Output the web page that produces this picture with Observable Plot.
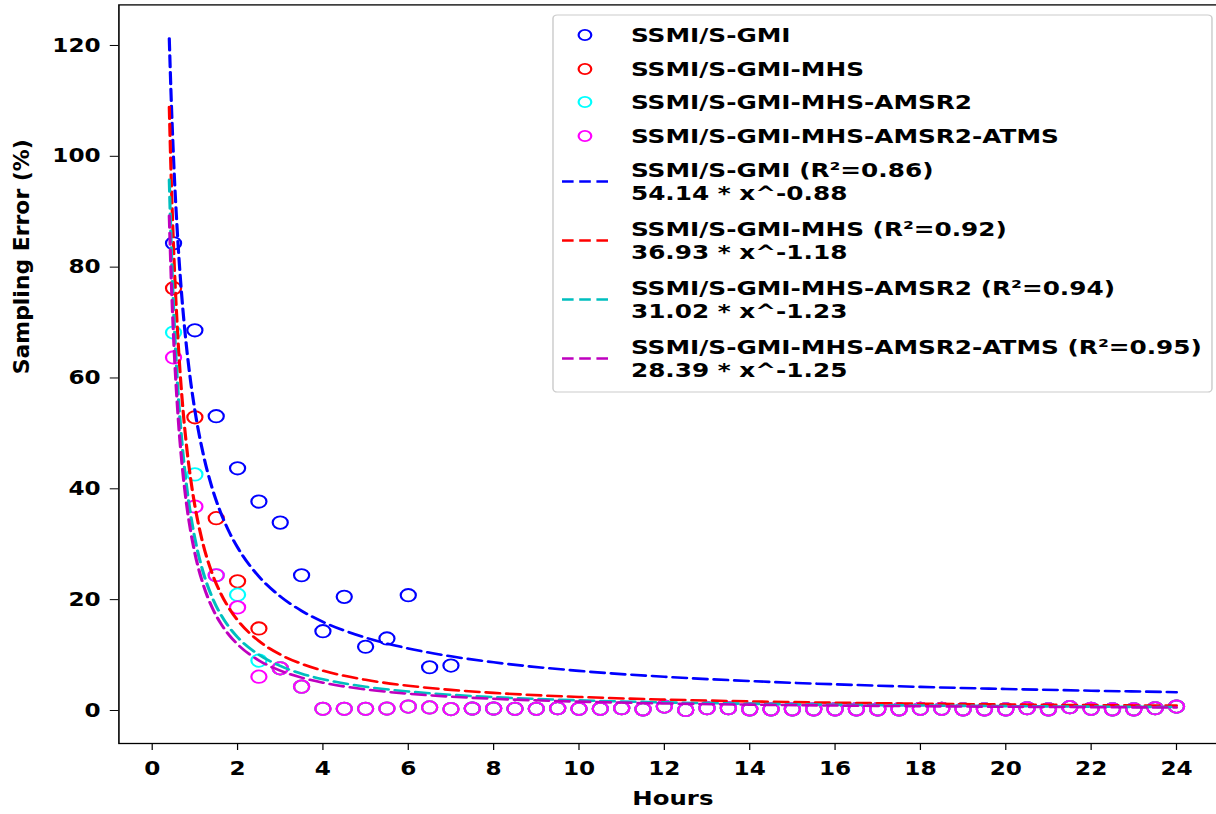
<!DOCTYPE html>
<html>
<head>
<meta charset="utf-8">
<script src="https://cdn.jsdelivr.net/npm/d3@7"></script>
<script src="https://cdn.jsdelivr.net/npm/@observablehq/plot@0.6"></script>
<style>
  html, body { margin: 0; padding: 0; background: white; overflow: hidden; }
  #chart { width: 1216px; height: 814px; }
</style>
</head>
<body>
<div id="chart"></div>
<script>
// ---------- data ----------
const seriesNames = ["SSMI/S-GMI", "SSMI/S-GMI-MHS", "SSMI/S-GMI-MHS-AMSR2", "SSMI/S-GMI-MHS-AMSR2-ATMS"];
const pointColors = ["#0000ff", "#ff0000", "#00ffff", "#ff00ff"];
const lineColors = ["#0000ff", "#ff0000", "#00bfbf", "#bf00bf"];
const r2Values = ["0.86", "0.92", "0.94", "0.95"];
const fitEquations = ["54.14 * x^-0.88", "36.93 * x^-1.18", "31.02 * x^-1.23", "28.39 * x^-1.25"];

const hours = [0.5, 1, 1.5, 2, 2.5, 3, 3.5, 4, 4.5, 5, 5.5, 6, 6.5, 7, 7.5, 8, 8.5, 9, 9.5, 10,
  10.5, 11, 11.5, 12, 12.5, 13, 13.5, 14, 14.5, 15, 15.5, 16, 16.5, 17, 17.5, 18, 18.5, 19, 19.5, 20,
  20.5, 21, 21.5, 22, 22.5, 23, 23.5, 24];

const errGmi = [84.3, 68.6, 53.1, 43.7, 37.7, 33.9, 24.4, 14.3, 20.5, 11.5, 13.0, 20.8, 7.8, 8.1,
  0.35, 0.35, 0.3, 0.3, 0.4, 0.3, 0.3, 0.4, 0.2, 0.7, 0.1, 0.4, 0.4, 0.2, 0.2, 0.2, 0.2, 0.2, 0.2, 0.2,
  0.2, 0.3, 0.3, 0.2, 0.2, 0.2, 0.4, 0.2, 0.6, 0.3, 0.2, 0.2, 0.4, 0.7];
const errMhs = [76.2, 52.9, 34.7, 23.3, 14.8, 7.6, 4.3,
  0.3, 0.3, 0.3, 0.35, 0.7, 0.55, 0.25, 0.35, 0.35, 0.3, 0.3, 0.4, 0.3, 0.3, 0.4, 0.2, 0.7, 0.1, 0.4,
  0.4, 0.2, 0.2, 0.2, 0.2, 0.2, 0.2, 0.2, 0.2, 0.3, 0.3, 0.2, 0.2, 0.2, 0.4, 0.2, 0.6, 0.3, 0.2, 0.2, 0.4, 0.7];
const errAmsr2 = [68.2, 42.6, 24.4, 20.9, 9.0, 7.6, 4.3,
  0.3, 0.3, 0.3, 0.35, 0.7, 0.55, 0.25, 0.35, 0.35, 0.3, 0.3, 0.4, 0.3, 0.3, 0.4, 0.2, 0.7, 0.1, 0.4,
  0.4, 0.2, 0.2, 0.2, 0.2, 0.2, 0.2, 0.2, 0.2, 0.3, 0.3, 0.2, 0.2, 0.2, 0.4, 0.2, 0.6, 0.3, 0.2, 0.2, 0.4, 0.7];
const errAtms = [63.7, 36.8, 24.4, 18.6, 6.1, 7.6, 4.3,
  0.3, 0.3, 0.3, 0.35, 0.7, 0.55, 0.25, 0.35, 0.35, 0.3, 0.3, 0.4, 0.3, 0.3, 0.4, 0.2, 0.7, 0.1, 0.4,
  0.4, 0.2, 0.2, 0.2, 0.2, 0.2, 0.2, 0.2, 0.2, 0.3, 0.3, 0.2, 0.2, 0.2, 0.4, 0.2, 0.6, 0.3, 0.2, 0.2, 0.4, 0.7];

const fitHours = [0.4, 0.45, 0.5, 0.6, 0.7, 0.8, 0.9, 1, 1.2, 1.4, 1.6, 1.8, 2, 2.5, 3, 3.5, 4, 5, 6, 7, 8,
  10, 12, 14, 16, 18, 20, 22, 24];
const fitGmi = [121.26, 109.31, 99.63, 84.87, 74.10, 65.88, 59.40, 54.14, 46.12, 40.26, 35.80, 32.27, 29.42,
  24.17, 20.59, 17.98, 15.99, 13.14, 11.19, 9.77, 8.69, 7.14, 6.08, 5.31, 4.72, 4.25, 3.88, 3.57, 3.30];
const fitMhs = [108.88, 94.75, 83.68, 67.47, 56.26, 48.05, 41.82, 36.93, 29.78, 24.83, 21.21, 18.46, 16.30,
  12.53, 10.10, 8.42, 7.19, 5.53, 4.46, 3.72, 3.17, 2.44, 1.97, 1.64, 1.40, 1.22, 1.08, 0.96, 0.87];
const fitAmsr2 = [95.74, 82.83, 72.76, 58.14, 48.10, 40.82, 35.31, 31.02, 24.79, 20.51, 17.40, 15.05, 13.22,
  10.05, 8.03, 6.64, 5.64, 4.28, 3.42, 2.83, 2.40, 1.83, 1.46, 1.21, 1.02, 0.89, 0.78, 0.69, 0.62];
const fitAtms = [89.25, 77.03, 67.52, 53.76, 44.34, 37.52, 32.39, 28.39, 22.60, 18.64, 15.78, 13.62, 11.94,
  9.03, 7.19, 5.93, 5.02, 3.80, 3.02, 2.49, 2.11, 1.60, 1.27, 1.05, 0.89, 0.77, 0.67, 0.60, 0.53];

const xTicks = [0, 2, 4, 6, 8, 10, 12, 14, 16, 18, 20, 22, 24];
const yTicks = [0, 20, 40, 60, 80, 100, 120];

// ---------- tables ----------
const pointSeries = [errGmi, errMhs, errAmsr2, errAtms];
const fitSeries = [fitGmi, fitMhs, fitAmsr2, fitAtms];
const pointTables = pointSeries.map((vals, i) => hours.map((h, j) => ({series: seriesNames[i], hours: h, value: vals[j]})));
const fitTables = fitSeries.map((vals, i) => fitHours.map((h, j) => ({series: seriesNames[i], hours: h, value: vals[j]})));

// ---------- plot (drawn narrower, then stretched horizontally like the reference) ----------
const W = 997, H = 814, FULLW = 1216;
const FONT = "'DejaVu Sans', sans-serif";

const marks = [Plot.frame({stroke: "black", strokeWidth: 1.3})];
pointTables.forEach((t, i) => marks.push(Plot.dot(t, {x: "hours", y: "value", r: 6.2, stroke: pointColors[i], strokeWidth: 1.8, fill: "none"})));
fitTables.forEach((t, i) => marks.push(Plot.line(t, {x: "hours", y: "value", stroke: lineColors[i], strokeWidth: 2.6, strokeDasharray: "11.5,5.4", curve: "monotone-x"})));
marks.push(Plot.text(["Hours"], {frameAnchor: "bottom", dy: 61, fontSize: 20, fontWeight: "bold", fill: "black"}));
marks.push(Plot.text(["Sampling Error (%)"], {frameAnchor: "left", dx: -79, rotate: -90, fontSize: 17, fontWeight: "bold", fill: "black"}));

const svg = Plot.plot({
  width: W, height: H,
  marginLeft: 97, marginRight: -8.4, marginTop: 4.4, marginBottom: 71,
  style: {fontFamily: FONT, fontWeight: "bold", fontSize: "19px", color: "black", background: "white"},
  x: {domain: [-0.78, 25.18], ticks: xTicks, tickSize: 7, tickPadding: 11, label: null, tickFormat: d => String(d)},
  y: {domain: [-5.96, 127.32], ticks: yTicks, tickSize: 7, tickPadding: 8, label: null, tickFormat: d => String(d)},
  marks
});

svg.setAttribute("width", FULLW);
svg.setAttribute("height", H);
svg.setAttribute("preserveAspectRatio", "none");
svg.style.width = FULLW + "px";
svg.style.height = H + "px";
svg.style.maxWidth = "none";
svg.style.overflow = "hidden";

// y label length matches the reference's narrow label
d3.select(svg).selectAll("text").filter(function() { return this.textContent === "Sampling Error (%)"; })
  .attr("textLength", 235).attr("lengthAdjust", "spacingAndGlyphs");

// ---------- legend ----------
const lg = d3.select(svg).append("g")
  .attr("font-family", FONT).attr("font-weight", "bold").attr("font-size", 20.3)
  .attr("text-anchor", "start").style("text-anchor", "start");
lg.append("rect").attr("x", 453.4).attr("y", 15).attr("width", 540.3).attr("height", 377)
  .attr("rx", 3.5).attr("fill", "white").attr("fill-opacity", 0.8).attr("stroke", "#cccccc").attr("stroke-width", 1.2);

const rowY = [35, 69, 102, 136];
seriesNames.forEach((name, i) => {
  lg.append("circle").attr("cx", 479.6).attr("cy", rowY[i]).attr("r", 5.2)
    .attr("fill", "none").attr("stroke", pointColors[i]).attr("stroke-width", 1.8);
  lg.append("text").attr("x", 517.3).attr("y", rowY[i] + 7.4).attr("fill", "black")
    .attr("text-anchor", "start").text(name);
});
const twoLineY = [[170, 193], [229, 252], [288, 311], [347, 370]];
seriesNames.forEach((name, i) => {
  const [a, b] = twoLineY[i];
  const mid = (a + b) / 2;
  lg.append("line").attr("x1", 460.8).attr("x2", 498.5).attr("y1", mid).attr("y2", mid)
    .attr("stroke", lineColors[i]).attr("stroke-width", 2.6).attr("stroke-dasharray", "9.5,4.6");
  lg.append("text").attr("x", 517.3).attr("y", a + 7.4).attr("fill", "black")
    .attr("text-anchor", "start").text(`${name} (R²=${r2Values[i]})`);
  lg.append("text").attr("x", 517.3).attr("y", b + 7.4).attr("fill", "black")
    .attr("text-anchor", "start").text(fitEquations[i]);
});

document.getElementById("chart").appendChild(svg);
</script>
</body>
</html>
